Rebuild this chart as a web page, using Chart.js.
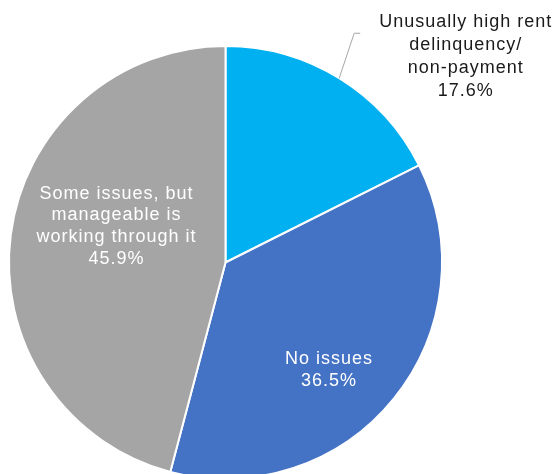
<!DOCTYPE html>
<html>
<head>
<meta charset="utf-8">
<script src="https://cdn.jsdelivr.net/npm/chart.js@4.4.1/dist/chart.umd.min.js"></script>
<style>
  html, body { margin: 0; padding: 0; background: #fff; overflow: hidden; }
  #wrap { position: relative; width: 559px; height: 490px; }
</style>
</head>
<body>
<div id="wrap"><canvas id="pie"></canvas></div>
<script>
// --- data ---
const categories = [
    ['Unusually high rent', 'delinquency/', 'non-payment'],
    ['No issues'],
    ['Some issues, but', 'manageable is', 'working through it']
];
const shares = [17.6, 36.5, 45.9];
const sliceColors = ['#00B0F0', '#4472C4', '#A5A5A5'];

// --- label drawing: place text relative to each arc ---
const labelPlugin = {
    id: 'sliceLabels',
    afterDatasetsDraw(chart) {
        const ctx = chart.ctx;
        const arcs = chart.getDatasetMeta(0).data;
        ctx.save();
        ctx.font = '18px "Liberation Sans", Arial, sans-serif';
        ctx.letterSpacing = '1px';
        ctx.textAlign = 'center';
        ctx.textBaseline = 'middle';

        arcs.forEach((arc, i) => {
            const p = arc.getProps(['x', 'y', 'startAngle', 'endAngle', 'outerRadius'], true);
            const mid = (p.startAngle + p.endAngle) / 2;
            const lines = categories[i].concat([shares[i].toFixed(1) + '%']);
            let cx, cy, color, lineH = 22;

            if (i === 0) {
                // outside label with a leader line
                const ex = p.x + Math.cos(mid) * p.outerRadius;
                const ey = p.y + Math.sin(mid) * p.outerRadius;
                const kx = ex + 15, ky = ey - 45;
                ctx.strokeStyle = '#A6A6A6';
                ctx.lineWidth = 1;
                ctx.beginPath();
                ctx.moveTo(ex, ey);
                ctx.lineTo(kx, ky);
                ctx.lineTo(kx + 6, ky);
                ctx.stroke();
                cx = kx + 111;
                cy = ky + 23.5;
                lineH = 23;
                color = '#1a1a1a';
            } else if (i === 1) {
                cx = p.x + Math.cos(mid) * p.outerRadius * 0.47 + 24;
                cy = p.y + Math.sin(mid) * p.outerRadius * 0.47 + 43;
                color = '#ffffff';
            } else {
                cx = p.x + Math.cos(mid) * p.outerRadius * 0.51;
                cy = p.y + Math.sin(mid) * p.outerRadius * 0.51 - 22;
                lineH = 21.7;
                color = '#ffffff';
            }

            ctx.fillStyle = color;
            const top = cy - (lines.length - 1) * lineH / 2;
            lines.forEach((t, k) => ctx.fillText(t, cx + 0.5, top + k * lineH));
        });
        ctx.restore();
    }
};

new Chart(document.getElementById('pie'), {
    type: 'pie',
    data: {
        labels: categories.map(c => c.join(' ')),
        datasets: [{
            data: shares,
            backgroundColor: sliceColors,
            borderColor: '#ffffff',
            borderWidth: 2
        }]
    },
    options: {
        responsive: true,
        maintainAspectRatio: false,
        animation: false,
        layout: { padding: { left: 8, right: 116, top: 45, bottom: 10 } },
        plugins: {
            legend: { display: false },
            tooltip: { enabled: false }
        }
    },
    plugins: [labelPlugin]
});
</script>
</body>
</html>
